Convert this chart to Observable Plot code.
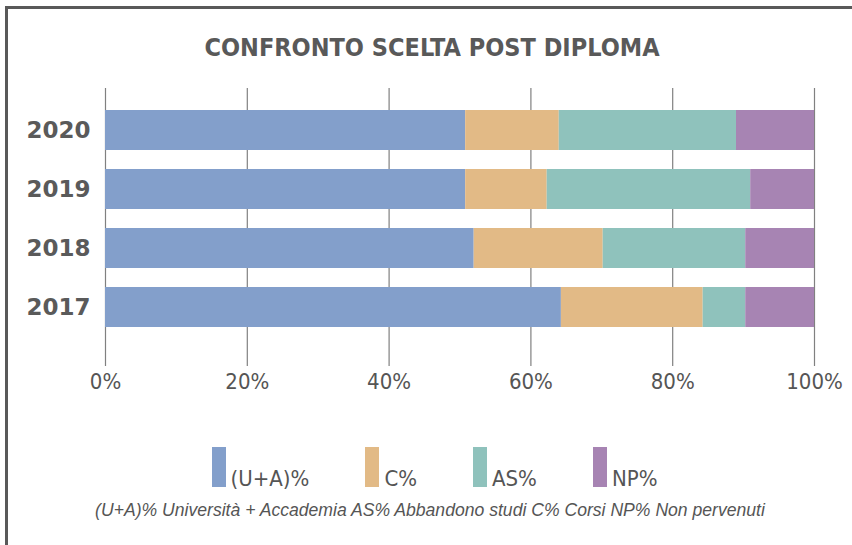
<!DOCTYPE html>
<html>
<head>
<meta charset="utf-8">
<script src="https://cdn.jsdelivr.net/npm/d3@7"></script>
<script src="https://cdn.jsdelivr.net/npm/@observablehq/plot@0.6"></script>
<style>
  html, body { margin: 0; padding: 0; background: #fff; }
  #wrap { position: relative; width: 852px; height: 545px; overflow: hidden; background: #fff; }
  #frame { position: absolute; left: 5px; top: 6px; right: -10px; bottom: -10px; border-top: 3px solid #595959; border-left: 3px solid #595959; }
  #title { position: absolute; left: 0; width: 864px; top: 35px; text-align: center; font-family: "DejaVu Sans Condensed", "DejaVu Sans", sans-serif; font-weight: bold; font-size: 25px; line-height: 25px; color: #595959; white-space: nowrap; }
  #chart { position: absolute; left: 0; top: 0; }
  #legend { position: absolute; left: 0; width: 869px; top: 447px; height: 40px; display: flex; justify-content: center; align-items: flex-end; gap: 56px; }
  .item { display: flex; align-items: flex-end; }
  .sw { width: 14px; height: 40px; margin-right: 5px; }
  .lab { font-family: "DejaVu Sans Condensed", "DejaVu Sans", sans-serif; font-size: 22px; line-height: 22px; color: #555; position: relative; top: 3px; }
  #caption { position: absolute; left: 0; width: 860px; top: 502px; text-align: center; font-family: "Liberation Sans", sans-serif; font-style: italic; font-size: 17.6px; line-height: 17px; color: #555; white-space: nowrap; }
  svg [aria-label="x-axis tick label"] text { font-family: "DejaVu Sans Condensed", "DejaVu Sans", sans-serif; font-size: 22px; fill: #555; }
  svg [aria-label="y-axis tick label"] text { font-family: "DejaVu Sans", sans-serif; font-weight: bold; font-size: 23px; fill: #5a5a5a; }
</style>
</head>
<body>
<div id="wrap">
  <div id="frame"></div>
  <div id="title"></div>
  <div id="chart"></div>
  <div id="legend"></div>
  <div id="caption"></div>
</div>
<script>
const titleText = "CONFRONTO SCELTA POST DIPLOMA";
const captionText = "(U+A)% Università + Accademia AS% Abbandono studi C% Corsi NP% Non pervenuti";
const years = ["2020", "2019", "2018", "2017"];
const categories = ["(U+A)%", "C%", "AS%", "NP%"];
const colors = ["#839fcb", "#e2ba86", "#8fc2bc", "#a784b3"];
const uaValues = [50.8, 50.8, 52.0, 64.3];
const cValues = [13.2, 11.5, 18.2, 20.0];
const asValues = [25.0, 28.7, 20.1, 6.0];
const npValues = [11.0, 9.0, 9.7, 9.7];
const xTicks = [0, 20, 40, 60, 80, 100];

const series = [uaValues, cValues, asValues, npValues];
const rows = [];
years.forEach((y, i) => {
  categories.forEach((c, j) => rows.push({year: y, cat: c, value: series[j][i]}));
});

document.getElementById("title").textContent = titleText;
document.getElementById("caption").textContent = captionText;

const chart = Plot.plot({
  width: 852,
  height: 400,
  marginTop: 88,
  marginBottom: 34,
  marginLeft: 105,
  marginRight: 38,
  x: {domain: [0, 100]},
  y: {domain: years, paddingInner: 0.33, paddingOuter: 0.5, align: 0.35},
  color: {domain: categories, range: colors},
  marks: [
    Plot.gridX(xTicks, {stroke: "#808080", strokeOpacity: 1, strokeWidth: 1.2}),
    Plot.barX(rows, Plot.stackX({x: "value", y: "year", fill: "cat", order: categories})),
    Plot.axisX({ticks: xTicks, tickSize: 0, tickPadding: 7, tickFormat: d => d + "%", label: null}),
    Plot.axisY({tickSize: 0, tickPadding: 15, label: null})
  ]
});
document.getElementById("chart").appendChild(chart);

const legend = document.getElementById("legend");
categories.forEach((c, i) => {
  const item = document.createElement("div");
  item.className = "item";
  const sw = document.createElement("div");
  sw.className = "sw";
  sw.style.background = colors[i];
  const lab = document.createElement("div");
  lab.className = "lab";
  lab.textContent = c;
  item.appendChild(sw);
  item.appendChild(lab);
  legend.appendChild(item);
});
</script>
</body>
</html>
